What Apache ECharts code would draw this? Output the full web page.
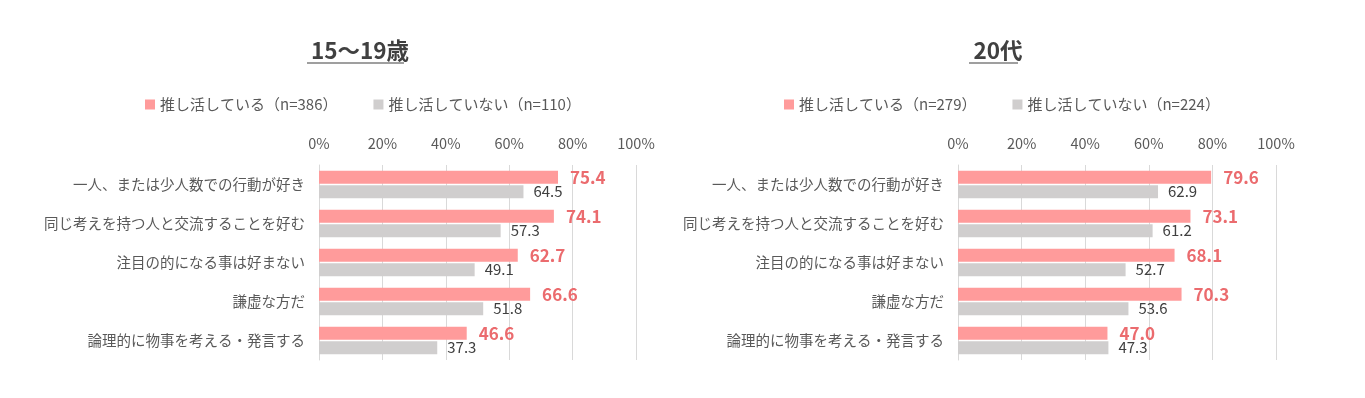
<!DOCTYPE html>
<html>
<head>
<meta charset="utf-8">
<script src="https://cdn.jsdelivr.net/npm/echarts@6/dist/echarts.min.js"></script>
<style>
  html, body { margin: 0; padding: 0; background: #fff; }
  #chart { width: 1365px; height: 398px; }
</style>
</head>
<body>
<div id="chart"></div>
<script>
// 項目
const categories = [
  "一人、または少人数での行動が好き",
  "同じ考えを持つ人と交流することを好む",
  "注目の的になる事は好まない",
  "謙虚な方だ",
  "論理的に物事を考える・発言する"
];
const xTicks = [0, 20, 40, 60, 80, 100];

// 15～19歳
const teenOshiName = "推し活している（n=386）";
const teenNonName = "推し活していない（n=110）";
const teenOshi = [75.4, 74.1, 62.7, 66.6, 46.6];
const teenNon = [64.5, 57.3, 49.1, 51.8, 37.3];

// 20代
const twentiesOshiName = "推し活している（n=279）";
const twentiesNonName = "推し活していない（n=224）";
const twentiesOshi = [79.6, 73.1, 68.1, 70.3, 47.0];
const twentiesNon = [62.9, 61.2, 52.7, 53.6, 47.3];

const FONT = "'Noto Sans CJK JP', 'Noto Sans', sans-serif";
const PINK = "#ff9b9b";
const PINK_TEXT = "#eb6b6e";
const GRAY = "#d0cece";
const TEXT = "#595959";
const GRID_LINE = "#d9d9d9";

const chart = echarts.init(document.getElementById("chart"));

function xAxisOf(gridIndex) {
  return {
    gridIndex: gridIndex,
    type: "value",
    position: "top",
    min: xTicks[0],
    max: xTicks[xTicks.length - 1],
    interval: xTicks[1] - xTicks[0],
    axisLine: { show: false },
    axisTick: { show: false },
    axisLabel: { formatter: "{value}%", color: TEXT, fontSize: 14.5, fontFamily: FONT, margin: 14 },
    splitLine: { lineStyle: { color: GRID_LINE, width: 1 } }
  };
}

function yAxisOf(gridIndex) {
  return {
    gridIndex: gridIndex,
    type: "category",
    inverse: true,
    data: categories,
    axisLine: { lineStyle: { color: GRID_LINE } },
    axisTick: { show: false },
    axisLabel: { color: TEXT, fontSize: 14.5, fontFamily: FONT, margin: 14 }
  };
}

function barPair(idx, oshiName, nonName, oshi, non) {
  return [
    {
      name: oshiName,
      type: "bar",
      xAxisIndex: idx,
      yAxisIndex: idx,
      data: oshi,
      barWidth: 13,
      barGap: "10%",
      itemStyle: { color: PINK },
      label: {
        show: true,
        position: "right",
        distance: 12,
        color: PINK_TEXT,
        fontWeight: "bold",
        fontSize: 17,
        fontFamily: FONT,
        formatter: p => p.value.toFixed(1)
      }
    },
    {
      name: nonName,
      type: "bar",
      xAxisIndex: idx,
      yAxisIndex: idx,
      data: non,
      barWidth: 13,
      itemStyle: { color: GRAY },
      label: {
        show: true,
        position: "right",
        distance: 10,
        color: "#404040",
        fontSize: 15,
        fontFamily: FONT,
        formatter: p => p.value.toFixed(1)
      }
    }
  ];
}

const legendText = { color: TEXT, fontSize: 15, fontFamily: FONT };

chart.setOption({
  animation: false,
  title: [
    { text: "15～19歳", left: 355, top: 34, textAlign: "center",
      textStyle: { fontSize: 22.5, fontWeight: "bold", color: "#404040", fontFamily: FONT } },
    { text: "20代", left: 993, top: 34, textAlign: "center",
      textStyle: { fontSize: 22.5, fontWeight: "bold", color: "#404040", fontFamily: FONT } }
  ],
  graphic: [
    { type: "line", shape: { x1: 307, y1: 63, x2: 404, y2: 63 }, style: { stroke: "#404040", lineWidth: 1.2 } },
    { type: "line", shape: { x1: 969, y1: 63, x2: 1018, y2: 63 }, style: { stroke: "#404040", lineWidth: 1.2 } }
  ],
  legend: [
    { data: [teenOshiName, teenNonName], left: 140, top: 92, itemWidth: 10, itemHeight: 10,
      itemGap: 36, textStyle: legendText, icon: "rect" },
    { data: [twentiesOshiName, twentiesNonName], left: 779, top: 92, itemWidth: 10, itemHeight: 10,
      itemGap: 36, textStyle: legendText, icon: "rect" }
  ],
  grid: [
    { left: 319, width: 317, top: 165, height: 195 },
    { left: 958, width: 318, top: 165, height: 195 }
  ],
  xAxis: [xAxisOf(0), xAxisOf(1)],
  yAxis: [yAxisOf(0), yAxisOf(1)],
  series: [
    ...barPair(0, teenOshiName, teenNonName, teenOshi, teenNon),
    ...barPair(1, twentiesOshiName, twentiesNonName, twentiesOshi, twentiesNon)
  ]
});
</script>
</body>
</html>
